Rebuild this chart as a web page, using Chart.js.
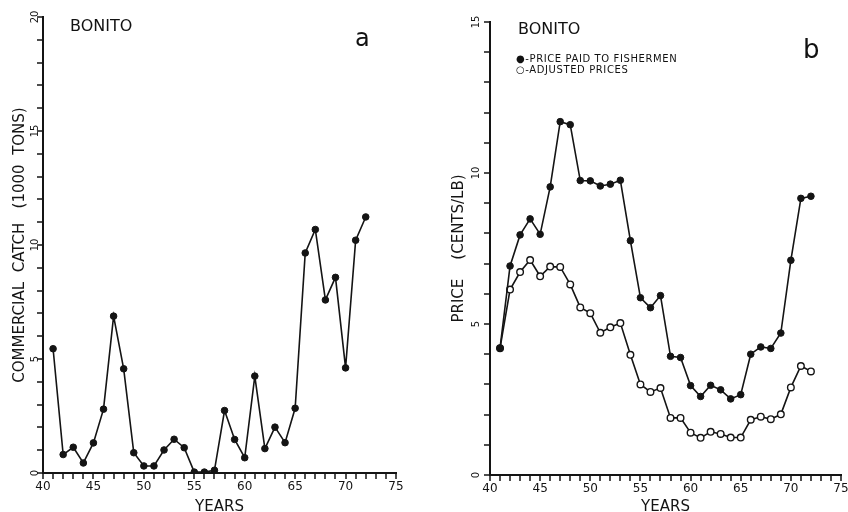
<!DOCTYPE html>
<html>
<head>
<meta charset="utf-8">
<script src="https://cdn.jsdelivr.net/npm/chart.js@4/dist/chart.umd.min.js"></script>
<style>
  html, body { margin: 0; padding: 0; background: #fff; overflow: hidden; }
  body { width: 848px; height: 512px; position: relative; font-family: 'DejaVu Sans', sans-serif; color: #111; }
  canvas { position: absolute; top: 0; }
  .lbl { position: absolute; line-height: 1; white-space: nowrap; }
</style>
</head>
<body>
<canvas id="chart-catch" width="420" height="516" style="left:0;width:420px;height:516px"></canvas>
<canvas id="chart-price" width="424" height="516" style="left:428px;width:424px;height:516px"></canvas>

<div class="lbl" style="left:70px;top:18px;font-size:16px">BONITO</div>
<div class="lbl" style="left:355px;top:26px;font-size:24px">a</div>
<div class="lbl" style="left:518px;top:21px;font-size:16px">BONITO</div>
<div class="lbl" style="left:516px;top:53px;font-size:10px;line-height:11px;letter-spacing:0.6px">&#9679;-PRICE PAID TO FISHERMEN<br>&#9675;-ADJUSTED PRICES</div>
<div class="lbl" style="left:803px;top:36px;font-size:26px">b</div>

<script>
const INK = '#141414';

// panel a: commercial catch (1000 tons)
const catchYears = [41, 42, 43, 44, 45, 46, 47, 48, 49, 50, 51, 52, 53, 54, 55, 56,
                    57, 58, 59, 60, 61, 62, 63, 64, 65, 66, 67, 68, 69, 70, 71, 72];
const catchTons = [5.45, 0.81, 1.13, 0.44, 1.32, 2.80, 6.88, 4.57, 0.89, 0.31, 0.31, 1.01,
                   1.48, 1.11, 0.04, 0.04, 0.12, 2.74, 1.47, 0.67, 4.25, 1.07, 2.01, 1.33,
                   2.84, 9.65, 10.68, 7.59, 8.58, 4.61, 10.21, 11.23];
const catchTicks = [0, 5, 10, 15, 20];

// panel b: price (cents/lb)
const priceYears = [41, 42, 43, 44, 45, 46, 47, 48, 49, 50, 51, 52, 53, 54, 55, 56,
                    57, 58, 59, 60, 61, 62, 63, 64, 65, 66, 67, 68, 69, 70, 71, 72];
const pricePaid = [4.20, 6.92, 7.95, 8.48, 7.97, 9.54, 11.70, 11.60, 9.75, 9.74, 9.57, 9.63,
                   9.76, 7.76, 5.87, 5.54, 5.94, 3.93, 3.89, 2.96, 2.60, 2.97, 2.82, 2.52,
                   2.66, 4.00, 4.24, 4.19, 4.70, 7.11, 9.16, 9.23];
const priceAdjusted = [4.20, 6.14, 6.72, 7.12, 6.58, 6.90, 6.89, 6.31, 5.55, 5.36, 4.71, 4.89,
                       5.03, 3.98, 3.00, 2.75, 2.88, 1.89, 1.89, 1.40, 1.23, 1.43, 1.36, 1.24,
                       1.24, 1.83, 1.93, 1.85, 2.01, 2.90, 3.61, 3.43];
const priceTicks = [0, 5, 10, 15];

const xMin = 40, xMax = 75;
const TICK_LEN = 6;

const toPoints = (xs, ys) => xs.map((x, i) => ({ x, y: ys[i] }));

// short outward tick marks on both axes, plus sideways y numbers like the original
const axisDecor = {
  id: 'axisDecor',
  afterDraw(chart, args, opts) {
    const xs = chart.scales.x;
    const ys = chart.scales.y;
    const area = chart.chartArea;
    const ctx = chart.ctx;
    ctx.save();
    ctx.fillStyle = INK;
    for (const t of xs.ticks) {
      const px = Math.round(xs.getPixelForValue(t.value));
      ctx.fillRect(px - 0.75, area.bottom, 1.5, TICK_LEN);
    }
    for (const t of ys.ticks) {
      const py = Math.round(ys.getPixelForValue(t.value));
      ctx.fillRect(area.left - TICK_LEN, py - 0.75, TICK_LEN, 1.5);
    }

    ctx.font = '10px "DejaVu Sans"';
    ctx.textAlign = 'center';
    ctx.textBaseline = 'middle';
    for (const v of opts.values) {
      ctx.save();
      ctx.translate(area.left - opts.offset, ys.getPixelForValue(v));
      ctx.rotate(-Math.PI / 2);
      ctx.fillText(String(v), 0, 0);
      ctx.restore();
    }
    ctx.restore();
  }
};

// library tick marks stay invisible; they only reserve room under the axis
const gridOpts = { display: true, drawOnChartArea: false, drawTicks: true, tickLength: 6, color: 'rgba(0,0,0,0)' };

function axisX(height) {
  return {
    type: 'linear',
    min: xMin,
    max: xMax,
    grid: gridOpts,
    border: { display: true, color: INK, width: 2 },
    ticks: {
      stepSize: 1,
      autoSkip: false,
      maxRotation: 0,
      padding: 1,
      color: INK,
      font: { family: 'DejaVu Sans', size: 12 },
      callback: (v) => (v % 5 === 0 ? String(v) : '')
    },
    title: {
      display: true,
      text: 'YEARS',
      color: INK,
      font: { family: 'DejaVu Sans', size: 15 },
      padding: { top: 0, bottom: 0 }
    },
    afterFit: (scale) => { scale.height = height; }
  };
}

function axisY(max, title, width) {
  return {
    type: 'linear',
    min: 0,
    max,
    grid: gridOpts,
    border: { display: true, color: INK, width: 2 },
    ticks: {
      stepSize: 1,
      autoSkip: false,
      color: 'rgba(0,0,0,0)',
      font: { size: 1 },
      callback: () => ''
    },
    title: {
      display: true,
      text: title,
      color: INK,
      font: { family: 'DejaVu Sans', size: 15 },
      padding: { top: 4, bottom: 4 }
    },
    afterFit: (scale) => { scale.width = width; }
  };
}

const baseOptions = {
  responsive: false,
  animation: false,
  events: [],
  plugins: { legend: { display: false }, tooltip: { enabled: false } }
};

new Chart(document.getElementById('chart-catch'), {
  type: 'line',
  data: {
    datasets: [{
      label: 'Commercial catch',
      data: toPoints(catchYears, catchTons),
      borderColor: INK,
      borderWidth: 1.6,
      tension: 0,
      pointRadius: 3.3,
      pointBackgroundColor: INK,
      pointBorderColor: INK,
      pointBorderWidth: 1
    }]
  },
  options: {
    ...baseOptions,
    layout: { padding: { left: 7, top: 17, right: 24, bottom: 0 } },
    scales: {
      x: axisX(43),
      y: axisY(20, 'COMMERCIAL  CATCH   (1000  TONS)', 36)
    },
    plugins: {
      ...baseOptions.plugins,
      axisDecor: { values: catchTicks, offset: 8 }
    }
  },
  plugins: [axisDecor]
});

new Chart(document.getElementById('chart-price'), {
  type: 'line',
  data: {
    datasets: [{
      label: 'Price paid to fishermen',
      data: toPoints(priceYears, pricePaid),
      borderColor: INK,
      borderWidth: 1.6,
      tension: 0,
      pointRadius: 3.3,
      pointBackgroundColor: INK,
      pointBorderColor: INK,
      pointBorderWidth: 1
    }, {
      label: 'Adjusted prices',
      data: toPoints(priceYears, priceAdjusted),
      borderColor: INK,
      borderWidth: 1.6,
      tension: 0,
      pointRadius: 3.3,
      pointBackgroundColor: '#fff',
      pointBorderColor: INK,
      pointBorderWidth: 1.4
    }]
  },
  options: {
    ...baseOptions,
    layout: { padding: { left: 18, top: 22, right: 11, bottom: 0 } },
    scales: {
      x: axisX(41),
      y: axisY(15, 'PRICE    (CENTS/LB)', 44)
    },
    plugins: {
      ...baseOptions.plugins,
      axisDecor: { values: priceTicks, offset: 14 }
    }
  },
  plugins: [axisDecor]
});
</script>
</body>
</html>
